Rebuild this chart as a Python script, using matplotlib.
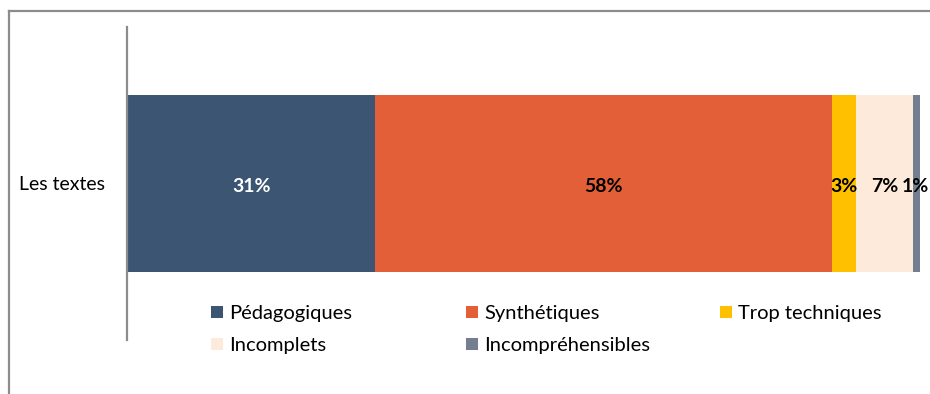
import matplotlib
matplotlib.use("Agg")
import matplotlib.pyplot as plt
from matplotlib.patches import Patch
from matplotlib.lines import Line2D

plt.rcParams['font.family'] = ['Lato', 'DejaVu Sans']

category = "Les textes"
labels = ["Pédagogiques", "Synthétiques", "Trop techniques", "Incomplets", "Incompréhensibles"]
values = [31.3, 57.6, 3.0, 7.2, 0.9]
shown = ["31%", "58%", "3%", "7%", "1%"]
colors = ["#3B5573", "#E35F37", "#FFC000", "#FDEADA", "#737F8F"]
text_colors = ["white", "black", "black", "black", "black"]

fig = plt.figure(figsize=(9.3, 3.94), dpi=100)
ax = fig.add_axes([127/930, 1-340/394, (920-127)/930, (340-27)/394])

left = 0
for v, c in zip(values, colors):
    ax.barh([0], [v], left=left, height=0.565, color=c)
    left += v

# value labels centred on each segment
left = 0
for v, s, tc in zip(values, shown, text_colors):
    x = left + v/2
    if s == "1%":
        x -= 0.15  # keep it inside the picture
    ax.text(x, -0.01, s, ha='center', va='center', color=tc,
            fontsize=14, fontweight='bold', clip_on=False)
    left += v

ax.set_xlim(0, sum(values))
ax.set_ylim(-0.5, 0.5)
ax.set_yticks([0])
ax.set_yticklabels([category], fontsize=14)
ax.tick_params(axis='y', length=0, pad=16)
ax.set_xticks([])
for sp in ['top', 'right', 'bottom']:
    ax.spines[sp].set_visible(False)
ax.spines['left'].set_color('#8C8C8C')
ax.spines['left'].set_linewidth(1.6)

# legend, three columns like excel
cols = [[0, 3], [1, 4], [2]]
xs = [211, 466, 720]
for col, x in zip(cols, xs):
    handles = [Patch(facecolor=colors[i], edgecolor='none') for i in col]
    fig.legend(handles, [labels[i] for i in col], loc='upper left',
               bbox_to_anchor=(x/930, 1-305/394), frameon=False, fontsize=14.5,
               handlelength=0.6, handleheight=0.6, handletextpad=0.3,
               labelspacing=0.75, borderpad=0, borderaxespad=0)

# chart border
fig.add_artist(Line2D([9/930, 1], [1-11/394, 1-11/394], color='#8C8C8C', lw=1.6))
fig.add_artist(Line2D([9/930, 9/930], [0, 1-11/394], color='#8C8C8C', lw=1.6))

fig.savefig("out.png", dpi=100)
